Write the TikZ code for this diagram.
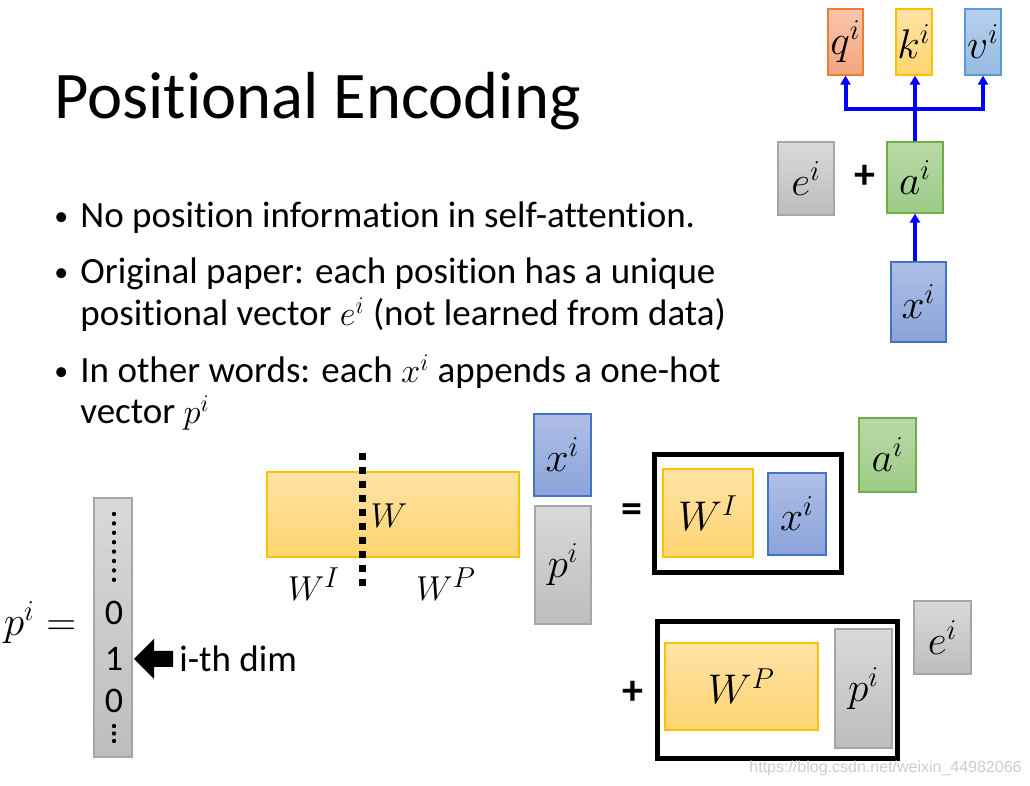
\documentclass[tikz,border=0pt]{standalone}
\usepackage{fontspec}
\setmainfont{Carlito}[Ligatures=NoCommon]
\newfontfamily\markfont{Liberation Sans}
\usepackage{amsmath}
\usetikzlibrary{arrows.meta,positioning}
\definecolor{ornTop}{HTML}{FFE3A6}
\definecolor{ornBot}{HTML}{FFD470}
\definecolor{ornLine}{HTML}{FFC000}
\definecolor{bluTop}{HTML}{AFBFE6}
\definecolor{bluBot}{HTML}{8AA3D9}
\definecolor{bluLine}{HTML}{4472C4}
\definecolor{gryTop}{HTML}{D9D9D9}
\definecolor{gryBot}{HTML}{BDBDBD}
\definecolor{gryLine}{HTML}{A6A6A6}
\definecolor{grnTop}{HTML}{B9D9A8}
\definecolor{grnBot}{HTML}{9DCB86}
\definecolor{grnLine}{HTML}{70AD47}
\definecolor{redTop}{HTML}{F8C6AD}
\definecolor{redBot}{HTML}{F4A47C}
\definecolor{redLine}{HTML}{ED7D31}
\definecolor{skyTop}{HTML}{B7D0EC}
\definecolor{skyBot}{HTML}{96BBE2}
\definecolor{skyLine}{HTML}{5B9BD5}
\tikzset{
        vec/.style={draw, line width=0.6pt, inner sep=0pt, font=\fontsize{20}{24}\selectfont},
        ornvec/.style={vec, draw=ornLine, top color=ornTop, bottom color=ornBot},
        bluvec/.style={vec, draw=bluLine, top color=bluTop, bottom color=bluBot},
        gryvec/.style={vec, draw=gryLine, top color=gryTop, bottom color=gryBot},
        grnvec/.style={vec, draw=grnLine, top color=grnTop, bottom color=grnBot},
        redvec/.style={vec, draw=redLine, top color=redTop, bottom color=redBot},
        skyvec/.style={vec, draw=skyLine, top color=skyTop, bottom color=skyBot},
        frame/.style={draw, line width=2.6pt, inner sep=0pt},
        flow/.style={draw=blue, line width=2pt},
        flowarr/.style={flow, -{Triangle[width=5pt,length=4.5pt]}},
        txt/.style={anchor=base west, inner sep=0pt, font=\fontsize{18.5}{22}\selectfont},
        bullet/.style={anchor=base west, inner sep=0pt, font=\fontsize{14}{16}\selectfont},
        sign/.style={inner sep=0pt, font=\fontsize{21}{25}\bfseries\selectfont},
    }
\begin{document}
\begin{tikzpicture}[x=0.5pt, y=-0.5pt]
                \useasboundingbox (0,0) rectangle (1030,786);
                % title and bullets
                \node[anchor=base west, inner sep=0pt, font=\fontsize{33.3}{40}\selectfont] (title) at (54,119) {Positional Encoding};
                \node[bullet] (dot1) at (54,226) {•};
                \node[txt] (bul1) at (80,228) {No position information in self-attention.};
                \node[bullet] (dot2) at (54,282) {•};
                \node[txt] (bul2) at (80,284) {Original paper: each position has a unique};
                \node[txt] (bul2b) at (80,326) {positional vector $e^i$ (not learned from data)};
                \node[bullet] (dot3) at (54,381) {•};
                \node[txt] (bul3) at (80,383) {In other words: each $x^i$ appends a one-hot};
                \node[txt] (bul3b) at (80,424) {vector $p^i$};
                % self-attention input
                \node[redvec, minimum width=17.5pt, minimum height=33pt] (q) at (845.5,42) {$q^i$};
                \node[ornvec, minimum width=18pt, minimum height=33pt] (k) at (914,42) {$k^i$};
                \node[skyvec, minimum width=18pt, minimum height=33pt] (v) at (983,42) {$v^i$};
                \node[gryvec, minimum width=28pt, minimum height=36.5pt] (etop) at (806,178.5) {$e^i$};
                \node[sign] (plustop) at (865,177) {+};
                \node[grnvec, minimum width=28pt, minimum height=35.5pt] (atop) at (915,177.5) {$a^i$};
                \node[bluvec, minimum width=27.5pt, minimum height=40pt] (xtop) at (918.5,302) {$x^i$};
                \coordinate (split) at (915,109);
                \draw[flowarr] (xtop.north -| atop) -- (atop.south);
                \draw[flowarr] (atop.north) -- (atop.north |- k.south);
                \draw[flowarr] (split) -| (q.south);
                \draw[flowarr] (split) -| (v.south);
                % one-hot vector
                \node[inner sep=0pt, font=\fontsize{20}{24}\selectfont] (peq) at (40,623) {$p^i =$};
                \node[gryvec, minimum width=19pt, minimum height=129.5pt] (col) at (113,627.5) {};
                \foreach \k in {0,...,7}
                    \fill (114,514+9.4*\k) circle[radius=1.1pt];
                \foreach \k in {0,1,2}
                    \fill (114,726+7.5*\k) circle[radius=1.1pt];
                \node[inner sep=0pt, font=\fontsize{18}{21}\selectfont] (zero1) at (114,613) {0};
                \node[inner sep=0pt, font=\fontsize{18}{21}\selectfont] (one) at (114,659) {1};
                \node[inner sep=0pt, font=\fontsize{18}{21}\selectfont] (zero2) at (114,701) {0};
                \node[anchor=west, inner sep=0pt, font=\fontsize{18.5}{22}\selectfont] (dim) at (179,659) {i-th dim};
                \fill (134,659) -- (154,639) -- (154,651) -- (173,651) -- (173,667) -- (154,667) -- (154,679) -- cycle;
                % W times [x; p]
                \node[ornvec, minimum width=126pt, minimum height=42.5pt] (W) at (393,514.5) {};
                \node[inner sep=0pt, font=\fontsize{19}{23}\selectfont] (Wlab) at (389,516) {$W$};
                \draw[line width=3.5pt, dash pattern=on 3.6pt off 3.4pt] (362,453) -- (362,588);
                \node[inner sep=0pt, font=\fontsize{19}{23}\selectfont] (WIlab) at (314,584) {$W^I$};
                \node[inner sep=0pt, font=\fontsize{19}{23}\selectfont] (WPlab) at (446,584) {$W^P$};
                \node[bluvec, minimum width=28.5pt, minimum height=41pt] (xmid) at (562.5,455) {$x^i$};
                \node[gryvec, minimum width=28pt, minimum height=59pt] (pmid) at (563,565) {$p^i$};
                % = W^I x + W^P p
                \node[sign] (eq) at (632,513) {=};
                \node[frame, minimum width=93.5pt, minimum height=59pt] (frameI) at (748,513.5) {};
                \node[ornvec, minimum width=45pt, minimum height=44pt] (WI) at (708,513) {$W^I$};
                \node[bluvec, minimum width=29pt, minimum height=41pt] (xin) at (797,514) {$x^i$};
                \node[grnvec, minimum width=28.5pt, minimum height=37pt] (amid) at (887.5,455) {$a^i$};
                \node[sign] (plus) at (633,693) {+};
                \node[frame, minimum width=120pt, minimum height=68.5pt] (frameP) at (777.5,690) {};
                \node[ornvec, minimum width=76.5pt, minimum height=43.5pt] (WP) at (741.5,686.5) {$W^P$};
                \node[gryvec, minimum width=28.5pt, minimum height=59.5pt] (pin) at (863.5,688.5) {$p^i$};
                \node[gryvec, minimum width=28.5pt, minimum height=36.5pt] (ebot) at (942.5,637.5) {$e^i$};
                \node[anchor=east, inner sep=0pt, text=black!20, font=\fontsize{8}{10}\markfont] (mark) at (1022,768) {https://blog.csdn.net/weixin\_44982066};
            \end{tikzpicture}
\end{document}
